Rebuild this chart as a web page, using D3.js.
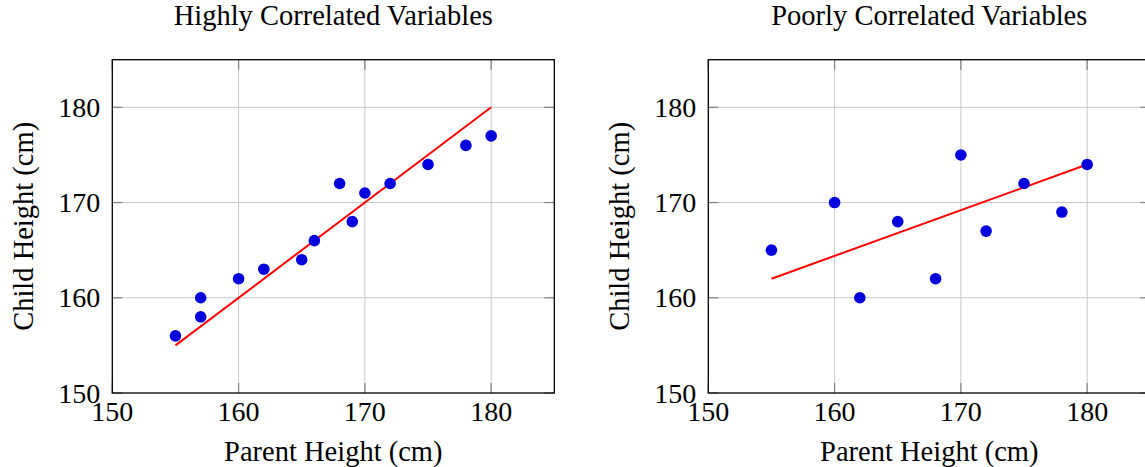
<!DOCTYPE html>
<html>
<head>
<meta charset="utf-8">
<script src="https://cdn.jsdelivr.net/npm/d3@7"></script>
<style>
  body { margin: 0; background: #fff; }
</style>
</head>
<body>
<div id="chart"></div>
<script>
// Highly correlated data
const highParent = [155, 157, 157, 160, 162, 165, 166, 168, 169, 170, 172, 175, 178, 180];
const highChild  = [156, 160, 158, 162, 163, 164, 166, 172, 168, 171, 172, 174, 176, 177];
const highFitX = [155, 180];
const highFitY = [155, 180];

// Poorly correlated data
const poorParent = [155, 160, 162, 165, 168, 170, 172, 175, 178, 180];
const poorChild  = [165, 170, 160, 168, 162, 175, 167, 172, 169, 174];
const poorFitX = [155, 180];
const poorFitY = [162, 174];

const tickValues = [150, 160, 170, 180];
const titles = ['Highly Correlated Variables', 'Poorly Correlated Variables'];
const xLabel = 'Parent Height (cm)';
const yLabel = 'Child Height (cm)';

const width = 1145;
const height = 467;
const serif = '"Liberation Serif", "Times New Roman", "DejaVu Serif", serif';

const svg = d3.select('#chart')
  .append('svg')
  .attr('width', width)
  .attr('height', height);

// plot box size
const boxW = 442;
const boxTop = 59.7;
const boxBottom = 393;

function drawPanel(left, title, px, py, fx, fy) {
  const x = d3.scaleLinear().domain([150, 185]).range([left, left + boxW]);
  const y = d3.scaleLinear().domain([150, 185]).range([boxBottom, boxTop]);
  const g = svg.append('g');

  // grid
  g.selectAll('.gx').data(tickValues.slice(1)).enter().append('line')
    .attr('x1', d => x(d)).attr('x2', d => x(d))
    .attr('y1', boxTop).attr('y2', boxBottom)
    .attr('stroke', '#c8c8c8').attr('stroke-width', 1);
  g.selectAll('.gy').data(tickValues.slice(1)).enter().append('line')
    .attr('y1', d => y(d)).attr('y2', d => y(d))
    .attr('x1', left).attr('x2', left + boxW)
    .attr('stroke', '#c8c8c8').attr('stroke-width', 1);

  // inward ticks on all four sides
  const tl = 10;
  tickValues.forEach(v => {
    [[x(v), boxBottom, x(v), boxBottom - tl], [x(v), boxTop, x(v), boxTop + tl],
     [left, y(v), left + tl, y(v)], [left + boxW, y(v), left + boxW - tl, y(v)]]
      .forEach(s => g.append('line')
        .attr('x1', s[0]).attr('y1', s[1]).attr('x2', s[2]).attr('y2', s[3])
        .attr('stroke', '#808080').attr('stroke-width', 1.2));
  });

  // fit line
  const line = d3.line().x(d => x(d[0])).y(d => y(d[1]));
  g.append('path')
    .attr('d', line(d3.zip(fx, fy)))
    .attr('fill', 'none')
    .attr('stroke', '#ff0000')
    .attr('stroke-width', 2);

  // points
  g.selectAll('circle').data(d3.zip(px, py)).enter().append('circle')
    .attr('cx', d => x(d[0]))
    .attr('cy', d => y(d[1]))
    .attr('r', 5.8)
    .attr('fill', '#0000dd');

  // box
  g.append('rect')
    .attr('x', left).attr('y', boxTop)
    .attr('width', boxW).attr('height', boxBottom - boxTop)
    .attr('fill', 'none').attr('stroke', '#000').attr('stroke-width', 1.3);

  // tick labels
  g.selectAll('.tx').data(tickValues).enter().append('text')
    .attr('x', d => x(d)).attr('y', 421)
    .attr('text-anchor', 'middle')
    .attr('font-family', serif)
    .attr('font-size', 28)
    .text(d => d);
  g.selectAll('.ty').data(tickValues).enter().append('text')
    .attr('x', left - 12).attr('y', d => y(d) + 9.5)
    .attr('text-anchor', 'end')
    .attr('font-family', serif)
    .attr('font-size', 28)
    .text(d => d);

  // labels
  g.append('text')
    .attr('x', left + boxW / 2).attr('y', 461)
    .attr('text-anchor', 'middle')
    .attr('font-family', serif)
    .attr('font-size', 28.5)
    .text(xLabel);
  g.append('text')
    .attr('transform', `translate(${left - 79},${(boxTop + boxBottom) / 2}) rotate(-90)`)
    .attr('text-anchor', 'middle')
    .attr('font-family', serif)
    .attr('font-size', 28.5)
    .text(yLabel);
  g.append('text')
    .attr('x', left + boxW / 2).attr('y', 25)
    .attr('text-anchor', 'middle')
    .attr('font-family', serif)
    .attr('font-size', 28.5)
    .text(title);
}

drawPanel(112.3, titles[0], highParent, highChild, highFitX, highFitY);
drawPanel(708.3, titles[1], poorParent, poorChild, poorFitX, poorFitY);
</script>
</body>
</html>
